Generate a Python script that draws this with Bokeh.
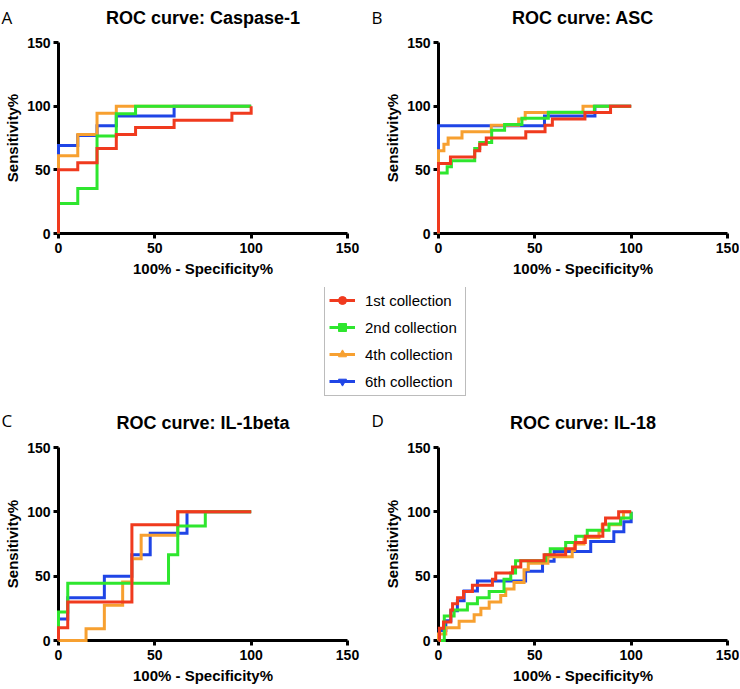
from bokeh.plotting import figure
from bokeh.layouts import column, row
from bokeh.models import Range1d, FixedTicker, Label, Legend, LegendItem
from bokeh.embed import file_html
from bokeh.resources import INLINE

# ---------------- data ----------------
series_names = ["1st collection", "2nd collection", "4th collection", "6th collection"]
series_colors = ["#F03A1E", "#2EE62E", "#F7A030", "#1F45E6"]
series_markers = ["circle", "square", "triangle", "inverted_triangle"]
panel_titles = ["ROC curve: Caspase-1", "ROC curve: ASC", "ROC curve: IL-1beta", "ROC curve: IL-18"]
panel_letters = ["A", "B", "C", "D"]
axis_ticks = [0, 50, 100, 150]
x_label = "100% - Specificity%"
y_label = "Sensitivity%"

# Each ROC curve: x = 100% - Specificity% at which Sensitivity% rises to y
casp1_1st_x = [0, 10, 20, 30, 40, 60, 90, 100]
casp1_1st_y = [50, 55.6, 66.7, 77.8, 83.3, 88.9, 94.4, 100]
casp1_2nd_x = [0, 10, 20, 30, 40]
casp1_2nd_y = [23.5, 35.3, 76.5, 94.1, 100]
casp1_4th_x = [0, 10, 20, 30]
casp1_4th_y = [61.1, 77.8, 94.4, 100]
casp1_6th_x = [0, 10, 20, 30, 60]
casp1_6th_y = [69.2, 76.9, 84.6, 92.3, 100]

asc_1st_x = [0, 6.2, 18.8, 21.4, 24.8, 45.3, 55.3, 59.1, 76, 89.3]
asc_1st_y = [55, 60, 65, 70, 75, 80, 85, 90, 95, 100]
asc_2nd_x = [0, 4.5, 6.7, 18.8, 21.4, 27.6, 34.3, 43.3, 57, 80.9]
asc_2nd_y = [47.6, 52.4, 57.1, 66.7, 71.4, 81, 85.7, 90.5, 95.2, 100]
asc_4th_x = [0, 2.8, 5, 12.2, 27.4, 41.6, 45, 75]
asc_4th_y = [65, 70, 75, 80, 85, 90, 95, 100]
asc_6th_x = [0, 55, 81.2]
asc_6th_y = [84.6, 92.3, 100]

il1b_1st_x = [0, 4.8, 38.1, 61.9]
il1b_1st_y = [10, 30, 90, 100]
il1b_2nd_x = [0, 4.8, 57.1, 61.9, 76.2]
il1b_2nd_y = [22.2, 44.4, 66.7, 88.9, 100]
il1b_4th_x = [14.3, 23.8, 33.3, 38.1, 42.9, 61.9]
il1b_4th_y = [9.1, 27.3, 45.5, 63.6, 81.8, 100]
il1b_6th_x = [0, 4.8, 23.8, 38.1, 47.6, 66.7]
il1b_6th_y = [16.7, 33.3, 50, 66.7, 83.3, 100]

il18_1st_x = [0.5, 2.6, 6.4, 7.3, 9.9, 13, 17.6, 28, 29.7, 38.4, 42.7, 54.8, 66, 71, 76.2, 85.3, 86.7, 93.5]
il18_1st_y = [9.5, 14.3, 23.8, 28.6, 33.3, 38.1, 42.9, 47.6, 52.4, 57.1, 61.9, 66.7, 71.4, 76.2, 81, 90.5, 95.2, 100]
il18_2nd_x = [3, 8.1, 15, 20.2, 26.3, 34, 37.5, 40, 55.6, 58, 66, 71.2, 77.2, 88.5, 94.5, 100]
il18_2nd_y = [19, 23.8, 28.6, 33.3, 38.1, 47.6, 52.4, 61.9, 66.7, 71.4, 76.2, 81, 85.7, 90.5, 95.2, 100]
il18_4th_x = [0, 3.8, 10.7, 18.5, 22, 26.3, 32.3, 34.9, 39.2, 44.4, 46.6, 56.8, 69.4, 70.5, 75.5, 83.3, 85, 94.5, 96]
il18_4th_y = [5, 10, 15, 20, 25, 30, 35, 40, 45, 55, 60, 65, 70, 75, 80, 85, 90, 95, 100]
il18_6th_x = [0.4, 3.8, 6.4, 9.8, 13.3, 20.2, 45.2, 54, 60, 79, 91, 96.2, 100]
il18_6th_y = [7.7, 15.4, 23.1, 30.8, 38.5, 46.2, 53.8, 61.5, 69.2, 76.9, 84.6, 92.3, 100]

panel_data = [
    [(casp1_1st_x, casp1_1st_y), (casp1_2nd_x, casp1_2nd_y), (casp1_4th_x, casp1_4th_y), (casp1_6th_x, casp1_6th_y)],
    [(asc_1st_x, asc_1st_y), (asc_2nd_x, asc_2nd_y), (asc_4th_x, asc_4th_y), (asc_6th_x, asc_6th_y)],
    [(il1b_1st_x, il1b_1st_y), (il1b_2nd_x, il1b_2nd_y), (il1b_4th_x, il1b_4th_y), (il1b_6th_x, il1b_6th_y)],
    [(il18_1st_x, il18_1st_y), (il18_2nd_x, il18_2nd_y), (il18_4th_x, il18_4th_y), (il18_6th_x, il18_6th_y)],
]

FONT = "Liberation Sans"
W_LEFT, W_RIGHT = 370, 369
TOTAL_W = W_LEFT + W_RIGHT
BL_LEFT, BR_LEFT = 58, 23      # left-column panels: frame 58..347
BL_RIGHT, BR_RIGHT = 68, 12    # right-column panels: frame 438..727


def staircase(xs, ys):
    px, py = [0.0], [0.0]
    for x, y in zip(xs, ys):
        px += [x, x]
        py += [py[-1], y]
    px.append(100.0)
    py.append(py[-1])
    return px, py


def make_panel(i, width, height, bl, br, bt, bb):
    p = figure(width=width, height=height, x_range=Range1d(0, 150), y_range=Range1d(0, 150),
               output_backend="svg", toolbar_location=None,
               min_border_left=bl, min_border_right=br, min_border_top=bt, min_border_bottom=bb)
    p.outline_line_color = None
    p.grid.visible = False
    p.background_fill_color = "white"
    p.border_fill_color = "white"
    for ax in (p.xaxis[0], p.yaxis[0]):
        ax.ticker = FixedTicker(ticks=axis_ticks)
        ax.minor_tick_line_color = None
        ax.major_tick_out = 5
        ax.major_tick_in = 0
        ax.major_tick_line_width = 3
        ax.major_tick_line_color = "black"
        ax.axis_line_width = 3
        ax.axis_line_color = "black"
        ax.major_label_text_font = FONT
        ax.major_label_text_font_style = "bold"
        ax.major_label_text_font_size = "14px"
        ax.major_label_text_color = "black"
        ax.major_label_standoff = 4
        ax.axis_label_text_font = FONT
        ax.axis_label_text_font_style = "bold"
        ax.axis_label_text_font_size = "15px"
        ax.axis_label_text_color = "black"
        ax.axis_label_standoff = 4
    p.yaxis[0].major_label_standoff = 3
    p.yaxis[0].axis_label_standoff = 3
    p.xaxis[0].axis_label = x_label
    p.yaxis[0].axis_label = y_label

    # draw 6th, 4th, 2nd, 1st so that 1st is on top
    for k in [3, 2, 1, 0]:
        xs, ys = panel_data[i][k]
        px, py = staircase(xs, ys)
        p.line(px, py, line_color=series_colors[k], line_width=3, line_join="miter", level="overlay")
    return p


def make_header(height, idx_pair, title_base, letter_base):
    h = figure(width=TOTAL_W, height=height, output_backend="svg", toolbar_location=None,
               x_range=Range1d(0, TOTAL_W), y_range=Range1d(0, height), min_border=0,
               x_axis_location=None, y_axis_location=None)
    h.outline_line_color = None
    h.grid.visible = False
    centers = [BL_LEFT + (W_LEFT - BL_LEFT - BR_LEFT) / 2.0,
               W_LEFT + BL_RIGHT + (W_RIGHT - BL_RIGHT - BR_RIGHT) / 2.0]
    letter_x = [1, W_LEFT + 1]
    for j, i in enumerate(idx_pair):
        h.add_layout(Label(x=centers[j], y=title_base, x_units="screen", y_units="screen",
                           text=panel_titles[i], text_align="center", text_baseline="alphabetic",
                           text_font=FONT, text_font_style="bold", text_font_size="18px",
                           text_color="black"))
        h.add_layout(Label(x=letter_x[j], y=letter_base, x_units="screen", y_units="screen",
                           text=panel_letters[i], text_align="left", text_baseline="alphabetic",
                           text_font="Open Sans", text_font_size="17px", text_color="black"))
    return h


header1 = make_header(30, (0, 1), 13, 13)
pA = make_panel(0, W_LEFT, 257, BL_LEFT, BR_LEFT, 12, 54)
pB = make_panel(1, W_RIGHT, 257, BL_RIGHT, BR_RIGHT, 12, 54)

# legend strip
lg = figure(width=TOTAL_W, height=110, output_backend="svg", toolbar_location=None,
            x_range=Range1d(0, 1), y_range=Range1d(0, 1), min_border=0,
            x_axis_location=None, y_axis_location=None)
lg.outline_line_color = None
lg.grid.visible = False
items = []
nan = float("nan")
for name, color, marker in zip(series_names, series_colors, series_markers):
    r1 = lg.line(x=[nan], y=[nan], line_color=color, line_width=3)
    r2 = lg.scatter(x=[nan], y=[nan], marker=marker, size=9, fill_color=color, line_color=color)
    items.append(LegendItem(label=name, renderers=[r1, r2]))
leg = Legend(items=items, location=(324, 1), padding=4, spacing=7, label_height=20,
             glyph_height=20, glyph_width=26, label_standoff=10, label_width=96, margin=0,
             label_text_font=FONT, label_text_font_size="15px", label_text_color="black",
             border_line_color="#7a7a7a", border_line_width=1, background_fill_color="white",
             background_fill_alpha=1.0)
lg.add_layout(leg)

header2 = make_header(34, (2, 3), 9, 11)
pC = make_panel(2, W_LEFT, 257, BL_LEFT, BR_LEFT, 16, 48)
pD = make_panel(3, W_RIGHT, 257, BL_RIGHT, BR_RIGHT, 16, 48)

layout = column(header1, row(pA, pB), lg, header2, row(pC, pD), spacing=0)

open("out.html", "w").write(file_html(layout, INLINE))
